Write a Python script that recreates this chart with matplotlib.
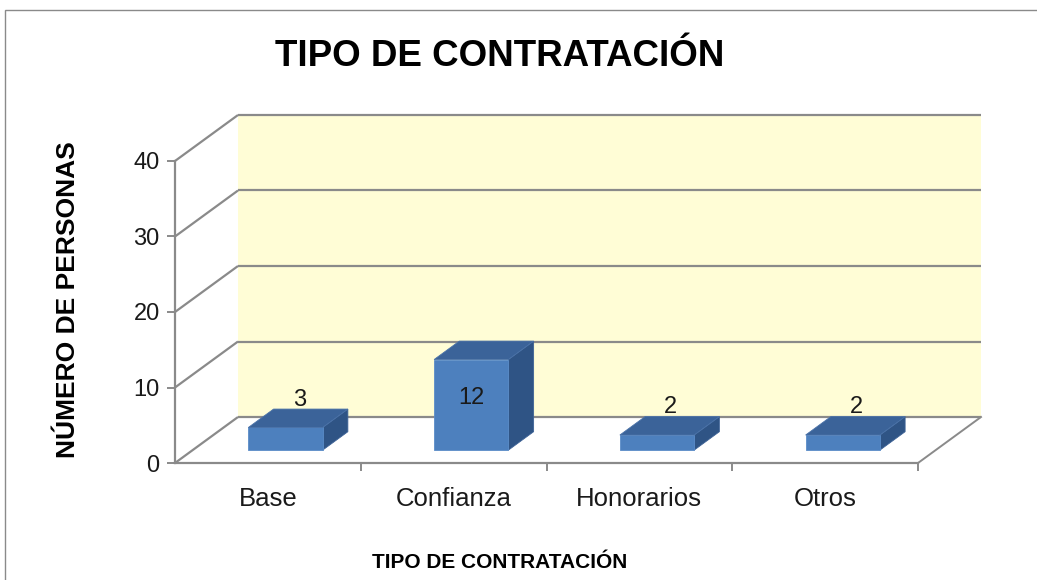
import matplotlib
matplotlib.use("Agg")
import matplotlib.pyplot as plt
from matplotlib.patches import Polygon, Rectangle
import numpy as np

plt.rcParams['font.family'] = ['Liberation Sans', 'DejaVu Sans']

# ---- data ----
categories = ["Base", "Confianza", "Honorarios", "Otros"]
values = [3, 12, 2, 2]
y_ticks = [0, 10, 20, 30, 40]
title = "TIPO DE CONTRATACIÓN"
x_label = "TIPO DE CONTRATACIÓN"
y_label = "NÚMERO DE PERSONAS"

# ---- style ----
W, H = 1037, 580
fig = plt.figure(figsize=(W / 100, H / 100), dpi=100)
fig.patch.set_facecolor("white")

# outer chart border (top + left visible, rest cropped)
fig.add_artist(Rectangle((5 / W, -0.1), 1.2, 1 - 10 / H + 0.1, transform=fig.transFigure,
                         fill=False, edgecolor="#8a8a8a", linewidth=1.0))

ax = fig.add_axes([175 / W, 117 / H, 743 / W, 302 / H])
n = len(categories)
ax.set_xlim(0, n)
ax.set_ylim(0, 40)
ax.patch.set_visible(False)

GRID = "#8a8a8a"
WALL = "#FFFDD6"
FRONT = "#4D80BE"
TOP = "#3B6399"
SIDE = "#2F5485"

# depth offset (data units)
DX = 63 / (743 / n)
DY = 46 / (302 / 40)

# back wall
ax.add_patch(Polygon([(DX, DY), (n + DX, DY), (n + DX, 40 + DY), (DX, 40 + DY)],
                     closed=True, facecolor=WALL, edgecolor="none", zorder=0, clip_on=False))
# gridlines: left wall diagonals + back horizontals
for v in y_ticks:
    ax.plot([0, DX], [v, v + DY], color=GRID, lw=1.6, zorder=1, clip_on=False,
            solid_capstyle="butt")
    ax.plot([DX, n + DX], [v + DY, v + DY], color=GRID, lw=1.6, zorder=1, clip_on=False,
            solid_capstyle="butt")
# floor right edge
ax.plot([n, n + DX], [0, DY], color=GRID, lw=1.4, zorder=1, clip_on=False)

# bars
BW = 0.40
F0 = 0.28   # depth fraction where front face sits
FD = 0.40   # bar depth fraction
for i, v in enumerate(values):
    x0 = i + 0.5 - BW / 2 + F0 * DX
    y0 = F0 * DY
    ddx, ddy = FD * DX, FD * DY
    front = Polygon([(x0, y0), (x0 + BW, y0), (x0 + BW, y0 + v), (x0, y0 + v)],
                    closed=True, facecolor=FRONT, edgecolor="#5a8cc8", lw=0.6, zorder=3, clip_on=False)
    top = Polygon([(x0, y0 + v), (x0 + BW, y0 + v), (x0 + BW + ddx, y0 + v + ddy), (x0 + ddx, y0 + v + ddy)],
                  closed=True, facecolor=TOP, edgecolor="#4a72a8", lw=0.6, zorder=3, clip_on=False)
    side = Polygon([(x0 + BW, y0), (x0 + BW + ddx, y0 + ddy), (x0 + BW + ddx, y0 + v + ddy), (x0 + BW, y0 + v)],
                   closed=True, facecolor=SIDE, edgecolor="#3d6296", lw=0.6, zorder=3, clip_on=False)
    ax.add_patch(side)
    ax.add_patch(front)
    ax.add_patch(top)
    if v > 5:
        ax.text(x0 + BW / 2, y0 + v * 0.58, str(v), ha="center", va="center",
                fontsize=17, color="#1a1a1a", zorder=5)
    else:
        ax.text(x0 + BW / 2 + ddx * 0.55, y0 + v + ddy - 0.2, str(v), ha="center", va="bottom",
                fontsize=17, color="#1a1a1a", zorder=5)

# axes / ticks
for s in ["top", "right"]:
    ax.spines[s].set_visible(False)
for s in ["left", "bottom"]:
    ax.spines[s].set_color(GRID)
    ax.spines[s].set_linewidth(1.6)
ax.set_yticks(y_ticks)
ax.set_yticklabels([str(t) for t in y_ticks], fontsize=17, color="#1a1a1a")
ax.tick_params(axis="y", direction="out", length=6, width=1.4, color=GRID, pad=5)
ax.set_xticks(np.arange(1, n + 1))
ax.set_xticklabels([])
ax.tick_params(axis="x", which="major", direction="out", length=6, width=1.4, color=GRID)
ax.set_xticks(np.arange(n) + 0.5, minor=True)
ax.set_xticklabels(categories, minor=True, fontsize=18.5, color="#1a1a1a")
ax.tick_params(axis="x", which="minor", length=0, pad=17)

# titles
fig.text(499.5 / W, 1 - 57 / H, title, ha="center", va="center", fontsize=26.5,
         fontweight="bold", color="black")
fig.text(500 / W, 1 - 563 / H, x_label, ha="center", va="center", fontsize=15,
         fontweight="bold", color="black")
fig.text(68 / W, 1 - 300 / H, y_label, ha="center", va="center", fontsize=19,
         fontweight="bold", color="black", rotation=90)

fig.savefig("out.png", dpi=100)
